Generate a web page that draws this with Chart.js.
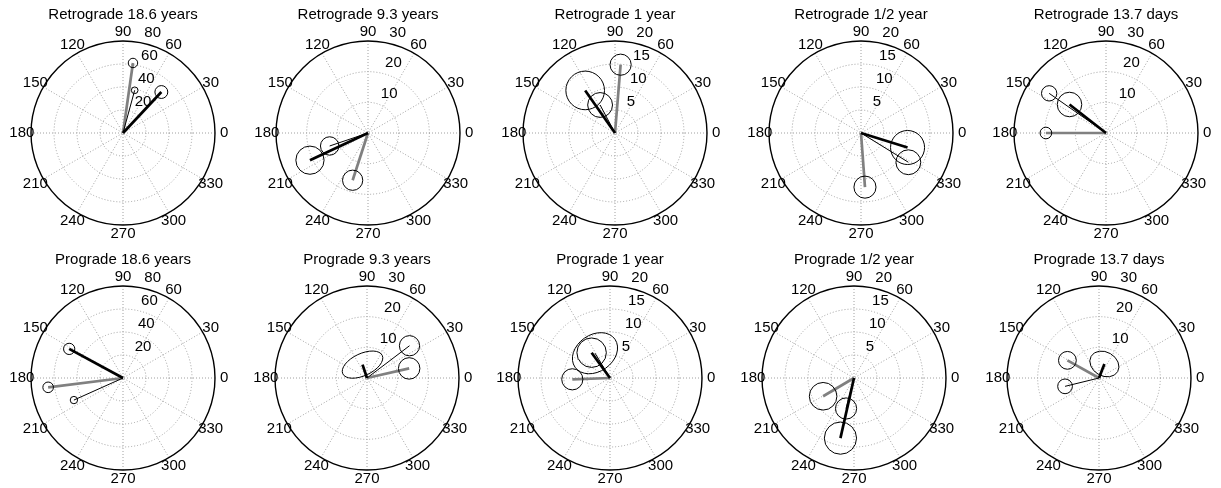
<!DOCTYPE html>
<html>
<head>
<meta charset="utf-8">
<script src="https://cdn.jsdelivr.net/npm/chart.js@4.4.1/dist/chart.umd.min.js"></script>
<style>
  html, body { margin: 0; padding: 0; background: #fff; }
  #fig { position: relative; width: 1221px; height: 488px; overflow: hidden; }
  #fig canvas { position: absolute; }
</style>
</head>
<body>
<div id="fig"></div>
<script>
// ---- data (amplitude, phase in degrees, error ellipse in amplitude units) ----
var titles = [
    'Retrograde 18.6 years', 'Retrograde 9.3 years', 'Retrograde 1 year', 'Retrograde 1/2 year', 'Retrograde 13.7 days',
    'Prograde 18.6 years', 'Prograde 9.3 years', 'Prograde 1 year', 'Prograde 1/2 year', 'Prograde 13.7 days'
];
var radialMax  = [80, 30, 20, 20, 30, 80, 30, 20, 20, 30];
var radialStep = [20, 10, 5, 5, 10, 20, 10, 5, 5, 10];
var angleTicks = [0, 30, 60, 90, 120, 150, 180, 210, 240, 270, 300, 330];

// thick black phasor
var thickAmp   = [48.8, 20.9, 11.3, 10.6, 15.1, 53.2, 4.6, 6.8, 13.4, 4.9];
var thickPhase = [46.9, 205.1, 125, 342.7, 142, 151.6, 108.5, 126, 257.3, 69];
var thickErrA  = [5.6, 4.6, 4.2, 3.7, 4.0, 4.9, 7.1, 3.2, 3.5, 5.0];
var thickErrB  = [5.6, 4.6, 4.2, 3.7, 4.0, 4.9, 3.6, 3.2, 3.5, 3.9];
var thickErrTilt = [0, 0, 0, 0, 0, 0, 25, 0, 0, -30];

// thin black phasor
var thinAmp   = [38.5, 13.2, 6.9, 12.1, 22.6, 46.8, 17.4, 6.3, 6.85, 11.4];
var thinPhase = [74.7, 198.7, 118, 328.3, 145.1, 204.2, 37.2, 121.2, 255.4, 193.8];
var thinErrA  = [2.9, 3.0, 2.7, 2.7, 2.5, 3.2, 3.3, 5.3, 2.3, 2.4];
var thinErrB  = [2.9, 3.0, 2.7, 2.7, 2.5, 3.2, 3.3, 4.0, 2.3, 2.4];
var thinErrTilt = [0, 0, 0, 0, 0, 0, 0, 35, 0, 0];

// gray phasor
var grayAmp   = [61.5, 16.2, 14.9, 11.8, 19.6, 65.6, 14.1, 8.2, 7.8, 11.8];
var grayPhase = [81.9, 252, 85.3, 274.2, 180, 187.1, 12.8, 182, 210.6, 150.8];
var grayErr   = [4.1, 3.3, 2.3, 2.4, 1.9, 4.6, 3.5, 2.3, 3.0, 2.9];

// ---- layout ----
var panelCx = [122.5, 368, 615, 860.5, 1106, 122.5, 366.5, 609.5, 854, 1098.5];
var panelCy = [132.5, 132.5, 132.5, 132.5, 132.5, 377.5, 377.5, 377.5, 377.5, 377.5];
var RPX = 92;              // pixel radius of the outer circle
var HALF_W = 122, TOP = 128, BOTTOM = 122;
var FONT = '15px "Liberation Sans", Arial, Helvetica, sans-serif';
var GRID = '#a0a0a0';

function tip(amp, deg) {
    var t = deg * Math.PI / 180;
    return { x: amp * Math.cos(t), y: amp * Math.sin(t) };
}

var polarFrame = {
    id: 'polarFrame',
    beforeDatasetsDraw: function (chart, args, opts) {
        var i = opts.panel;
        var ctx = chart.ctx, x = chart.scales.x, y = chart.scales.y;
        var ox = x.getPixelForValue(0), oy = y.getPixelForValue(0);
        var k = x.getPixelForValue(1) - ox;
        var rmax = radialMax[i], step = radialStep[i];
        var R = rmax * k;
        ctx.save();
        // dotted rings and spokes
        ctx.strokeStyle = GRID;
        ctx.lineWidth = 1;
        ctx.setLineDash([1, 2]);
        for (var r = step; r < rmax - 1e-9; r += step) {
            ctx.beginPath();
            ctx.arc(ox, oy, r * k, 0, 2 * Math.PI);
            ctx.stroke();
        }
        for (var a = 0; a < 180; a += 30) {
            var t = a * Math.PI / 180;
            ctx.beginPath();
            ctx.moveTo(ox - R * Math.cos(t), oy + R * Math.sin(t));
            ctx.lineTo(ox + R * Math.cos(t), oy - R * Math.sin(t));
            ctx.stroke();
        }
        // solid outer circle
        ctx.setLineDash([]);
        ctx.strokeStyle = '#000';
        ctx.lineWidth = 1.4;
        ctx.beginPath();
        ctx.arc(ox, oy, R, 0, 2 * Math.PI);
        ctx.stroke();

        ctx.fillStyle = '#000';
        ctx.font = FONT;
        // angle labels
        ctx.textAlign = 'center';
        ctx.textBaseline = 'middle';
        angleTicks.forEach(function (deg) {
            var t = deg * Math.PI / 180;
            ctx.fillText(String(deg), ox + 1.1 * R * Math.cos(t), oy - 1.1 * R * Math.sin(t));
        });
        // radial labels at 82 degrees
        ctx.textAlign = 'left';
        ctx.textBaseline = 'bottom';
        var c82 = Math.cos(82 * Math.PI / 180), s82 = Math.sin(82 * Math.PI / 180);
        for (var rr = step; rr <= rmax + 1e-9; rr += step) {
            var p = (rr + step / 20) * k;
            ctx.fillText('  ' + rr, ox + p * c82, oy - p * s82);
        }
        // title
        ctx.textAlign = 'center';
        ctx.textBaseline = 'middle';
        ctx.fillText(titles[i], ox, oy - 118);
        ctx.restore();
    },
    afterDatasetsDraw: function (chart, args, opts) {
        var i = opts.panel;
        var ctx = chart.ctx, x = chart.scales.x, y = chart.scales.y;
        var k = x.getPixelForValue(1) - x.getPixelForValue(0);
        var ells = [
            [tip(grayAmp[i], grayPhase[i]), grayErr[i], grayErr[i], 0],
            [tip(thinAmp[i], thinPhase[i]), thinErrA[i], thinErrB[i], thinErrTilt[i]],
            [tip(thickAmp[i], thickPhase[i]), thickErrA[i], thickErrB[i], thickErrTilt[i]]
        ];
        ctx.save();
        ctx.strokeStyle = '#000';
        ctx.lineWidth = 1;
        ells.forEach(function (e) {
            ctx.beginPath();
            ctx.ellipse(x.getPixelForValue(e[0].x), y.getPixelForValue(e[0].y),
                e[1] * k, e[2] * k, -e[3] * Math.PI / 180, 0, 2 * Math.PI);
            ctx.stroke();
        });
        ctx.restore();
    }
};

var fig = document.getElementById('fig');
titles.forEach(function (title, i) {
    var canvas = document.createElement('canvas');
    canvas.width = 2 * HALF_W;
    canvas.height = TOP + BOTTOM;
    canvas.style.left = (panelCx[i] - HALF_W) + 'px';
    canvas.style.top = (panelCy[i] - TOP) + 'px';
    fig.appendChild(canvas);

    var u = radialMax[i] / RPX;
    new Chart(canvas, {
        type: 'scatter',
        data: {
            datasets: [
                { data: [{ x: 0, y: 0 }, tip(thickAmp[i], thickPhase[i])], borderColor: '#000', borderWidth: 2.7, order: 0 },
                { data: [{ x: 0, y: 0 }, tip(thinAmp[i], thinPhase[i])], borderColor: '#000', borderWidth: 1, order: 1 },
                { data: [{ x: 0, y: 0 }, tip(grayAmp[i], grayPhase[i])], borderColor: '#808080', borderWidth: 2.7, order: 2 }
            ].map(function (d) {
                d.showLine = true; d.pointRadius = 0; d.fill = false; d.borderCapStyle = 'butt';
                return d;
            })
        },
        options: {
            responsive: false,
            animation: false,
            events: [],
            layout: { padding: 0 },
            plugins: {
                legend: { display: false },
                tooltip: { enabled: false },
                polarFrame: { panel: i }
            },
            scales: {
                x: { type: 'linear', display: false, min: -HALF_W * u, max: HALF_W * u },
                y: { type: 'linear', display: false, min: -BOTTOM * u, max: TOP * u }
            }
        },
        plugins: [polarFrame]
    });
});
</script>
</body>
</html>
